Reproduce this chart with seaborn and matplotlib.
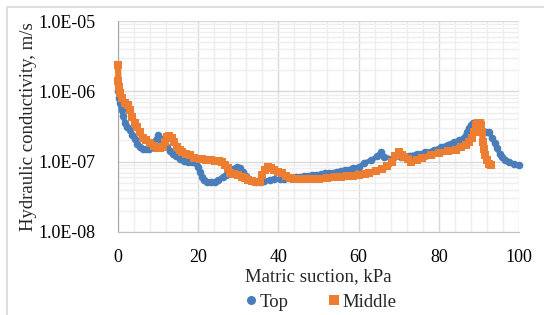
import numpy as np
import pandas as pd
import matplotlib
matplotlib.use('Agg')
import matplotlib.pyplot as plt
from matplotlib.ticker import LogLocator, MultipleLocator, FixedLocator
from matplotlib.lines import Line2D
from matplotlib.patches import Rectangle
import seaborn as sns

# data
top_suction = [0.0, 0.1, 0.2, 0.4, 0.9, 1.3, 1.7, 2.3, 3.0, 3.6, 4.2, 4.8, 5.5, 6.2, 7.0, 7.8,
               8.7, 9.4, 10.0, 10.6, 11.2, 12.2, 13.0, 13.7, 14.5, 15.5, 16.5, 17.5, 18.5, 19.5,
               20.0, 20.5, 20.9, 21.5, 22.3, 23.2, 24.1, 25.0, 26.1, 27.0, 27.9, 28.8, 29.6,
               30.3, 31.1, 32.0, 32.7, 33.5, 34.5, 35.5, 36.5, 37.8, 39.0, 40.3, 41.5, 42.5,
               43.5, 44.5, 45.5, 46.5, 47.5, 48.5, 49.5, 50.5, 51.5, 52.5, 53.5, 54.5, 55.5,
               56.5, 57.5, 58.5, 60.2, 61.4, 63.2, 64.7, 65.7, 66.4, 68.4, 70.5, 72.5, 74.5,
               76.6, 78.7, 80.6, 82.2, 83.8, 85.0, 86.3, 87.0, 87.6, 88.1, 88.6, 89.3, 90.2,
               91.0, 91.8, 92.5, 93.3, 93.9, 94.5, 95.2, 95.8, 96.6, 97.5, 98.7, 100.0]
top_k = [1.3e-6, 1.0e-6, 8.0e-7, 6.8e-7, 5.4e-7, 4.5e-7, 3.6e-7, 3.1e-7, 2.8e-7, 2.4e-7,
         2.1e-7, 1.8e-7, 1.6e-7, 1.5e-7, 1.5e-7, 1.5e-7, 1.7e-7, 2.0e-7, 2.4e-7, 2.1e-7,
         1.85e-7, 1.6e-7, 1.4e-7, 1.3e-7, 1.2e-7, 1.1e-7, 1.02e-7, 1.0e-7, 9.9e-8, 9.6e-8,
         8.4e-8, 7.2e-8, 6.0e-8, 5.5e-8, 5.1e-8, 5.1e-8, 5.1e-8, 5.5e-8, 6.0e-8, 6.5e-8,
         7.1e-8, 7.8e-8, 8.4e-8, 8.0e-8, 7.1e-8, 6.3e-8, 5.7e-8, 5.3e-8, 5.2e-8, 5.2e-8,
         5.3e-8, 5.5e-8, 5.6e-8, 5.65e-8, 5.7e-8, 5.8e-8, 5.9e-8, 6.0e-8, 6.1e-8, 6.2e-8,
         6.3e-8, 6.4e-8, 6.5e-8, 6.6e-8, 6.8e-8, 6.9e-8, 7.0e-8, 7.2e-8, 7.4e-8, 7.5e-8,
         7.7e-8, 8.1e-8, 8.4e-8, 9.6e-8, 1.05e-7, 1.2e-7, 1.37e-7, 1.16e-7, 1.1e-7, 1.18e-7,
         1.22e-7, 1.28e-7, 1.35e-7, 1.45e-7, 1.6e-7, 1.75e-7, 1.9e-7, 2.0e-7, 2.2e-7, 2.6e-7,
         3.0e-7, 3.3e-7, 3.5e-7, 2.8e-7, 2.6e-7, 2.6e-7, 2.64e-7, 2.64e-7, 2.17e-7, 1.85e-7,
         1.56e-7, 1.3e-7, 1.16e-7, 1.05e-7, 9.9e-8, 9.3e-8, 8.95e-8]

mid_suction = [0.0, 0.0, 0.0, 0.1, 0.3, 0.5, 1.0, 1.7, 2.5, 3.0, 3.5, 4.2, 4.7, 5.5, 6.2, 7.0,
               8.0, 8.9, 9.7, 10.5, 11.2, 11.8, 12.2, 12.8, 13.4, 14.0, 14.7, 15.5, 15.9, 17.0,
               17.9, 19.0, 20.4, 21.0, 22.0, 23.1, 24.2, 25.1, 25.9, 26.7, 27.4, 27.9, 28.9,
               29.9, 30.8, 31.6, 32.5, 33.3, 34.3, 35.3, 36.0, 36.6, 37.3, 38.2, 39.0, 40.0,
               40.8, 42.0, 42.8, 44.0, 45.5, 47.0, 48.5, 50.0, 52.0, 54.0, 55.5, 57.0, 58.5,
               60.0, 61.5, 62.7, 64.3, 65.9, 67.2, 68.4, 69.2, 70.1, 70.8, 71.4, 72.2, 73.1,
               74.5, 75.9, 78.0, 80.1, 82.2, 84.3, 85.6, 86.8, 87.6, 88.3, 88.8, 89.3, 89.8,
               90.2, 90.5, 90.8, 91.0, 91.3, 91.6, 92.0, 92.5, 93.0]
mid_k = [3.0e-6, 2.4e-6, 1.8e-6, 1.4e-6, 1.15e-6, 9.5e-7, 8.0e-7, 6.8e-7, 6.4e-7, 5.4e-7,
         4.3e-7, 3.6e-7, 3.1e-7, 2.6e-7, 2.2e-7, 2.0e-7, 1.84e-7, 1.65e-7, 1.56e-7, 1.56e-7,
         1.6e-7, 1.9e-7, 2.24e-7, 2.3e-7, 2.17e-7, 1.9e-7, 1.61e-7, 1.45e-7, 1.37e-7, 1.3e-7,
         1.24e-7, 1.14e-7, 1.1e-7, 1.08e-7, 1.07e-7, 1.05e-7, 1.03e-7, 1.02e-7, 1.0e-7,
         9.0e-8, 8.1e-8, 6.9e-8, 6.7e-8, 6.45e-8, 6.1e-8, 5.85e-8, 5.5e-8, 5.3e-8, 5.2e-8,
         5.2e-8, 6.5e-8, 7.6e-8, 8.4e-8, 8.1e-8, 7.6e-8, 7.2e-8, 6.9e-8, 6.2e-8, 5.85e-8,
         5.7e-8, 5.6e-8, 5.6e-8, 5.65e-8, 5.75e-8, 5.85e-8, 6.0e-8, 6.1e-8, 6.2e-8, 6.3e-8,
         6.45e-8, 6.7e-8, 6.9e-8, 7.3e-8, 7.8e-8, 8.6e-8, 9.9e-8, 1.2e-7, 1.35e-7, 1.25e-7,
         1.16e-7, 1.08e-7, 1.0e-7, 1.06e-7, 1.13e-7, 1.23e-7, 1.33e-7, 1.4e-7, 1.46e-7,
         1.6e-7, 1.72e-7, 1.9e-7, 2.17e-7, 2.6e-7, 3.3e-7, 3.54e-7, 3.54e-7, 3.3e-7, 2.6e-7,
         1.9e-7, 1.5e-7, 1.24e-7, 1.05e-7, 9.3e-8, 8.95e-8]

blue = '#4a7ebb'
orange = '#ed7d31'

sns.set_style('white')
plt.rcParams['font.family'] = ['Liberation Serif', 'DejaVu Serif']

fig = plt.figure(figsize=(5.44, 3.15), dpi=100)
fig.patches.append(Rectangle((7 / 544, -0.01), 1.0, 1 - 7 / 315 + 0.01, transform=fig.transFigure,
                             fill=False, edgecolor='#d9d9d9', lw=1.2, zorder=0))
ax = fig.add_axes([118 / 544, 1 - 232 / 315, 401 / 544, 211 / 315])

df_top = pd.DataFrame({'x': top_suction, 'k': top_k})
df_mid = pd.DataFrame({'x': mid_suction, 'k': mid_k})

sns.lineplot(data=df_top, x='x', y='k', sort=False, color=blue, lw=3.5, marker='o',
             markersize=5.5, markeredgewidth=0, ax=ax, zorder=3, clip_on=False)
sns.lineplot(data=df_mid, x='x', y='k', sort=False, color=orange, lw=4.5, marker='s',
             markersize=5.5, markeredgewidth=0, ax=ax, zorder=4, clip_on=False)

ax.set_yscale('log')
ax.set_xlim(0, 100)
ax.set_ylim(1e-8, 1e-5)
ax.xaxis.set_major_locator(MultipleLocator(20))
ax.xaxis.set_minor_locator(MultipleLocator(4))
ax.yaxis.set_major_locator(FixedLocator([1e-8, 1e-7, 1e-6, 1e-5]))
ax.yaxis.set_minor_locator(LogLocator(base=10, subs=np.arange(2, 10)))
ax.set_yticklabels(['1.0E-08', '1.0E-07', '1.0E-06', '1.0E-05'])
ax.grid(which='major', color='#d9d9d9', lw=1.0)
ax.grid(which='minor', color='#eeeeee', lw=1.0)
ax.set_axisbelow(True)
ax.tick_params(which='both', length=0, labelsize=13, colors='black')
ax.tick_params(axis='y', pad=16)
ax.tick_params(axis='x', pad=12)
for side in ['top', 'right']:
    ax.spines[side].set_visible(False)
ax.spines['left'].set_color('#a6a6a6')
ax.spines['bottom'].set_color('#bfbfbf')

ax.set_xlabel('Matric suction, kPa', fontsize=13.5, labelpad=2)
ax.set_ylabel('Hydraulic conductivity, m/s', fontsize=13.5, labelpad=1)

handles = [Line2D([], [], ls='none', marker='o', color=blue, markersize=6.5, markeredgewidth=0),
           Line2D([], [], ls='none', marker='s', color=orange, markersize=6.5, markeredgewidth=0)]
fig.legend(handles, ['Top', 'Middle'], loc='center', bbox_to_anchor=(320 / 544, 1 - 302 / 315),
           ncol=2, frameon=False, fontsize=13.5, handletextpad=0.05, columnspacing=2.0,
           handlelength=0.8)

fig.savefig('out.png', dpi=100)
